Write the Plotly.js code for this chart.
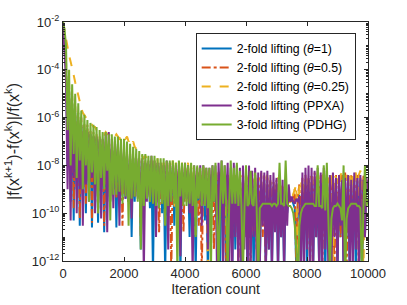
<!DOCTYPE html>
<html>
<head>
<meta charset="utf-8">
<script src="https://cdn.plot.ly/plotly-3.0.1.min.js"></script>
<style>html,body{margin:0;padding:0;background:#fff;}#chart{width:407px;height:305px;}</style>
</head>
<body>
<div id="chart"></div>
<script>
const iterations = [0,50,100,150,200,250,300,350,400,450,500,550,600,650,700,750,800,850,900,950,1000,1050,1100,1150,1200,1250,1300,1350,1400,1450,1500,1550,1600,1650,1700,1750,1800,1850,1900,1950,2000,2050,2100,2150,2200,2250,2300,2350,2400,2450,2500,2550,2600,2650,2700,2750,2800,2850,2900,2950,3000,3050,3100,3150,3200,3250,3300,3350,3400,3450,3500,3550,3600,3650,3700,3750,3800,3850,3900,3950,4000,4050,4100,4150,4200,4250,4300,4350,4400,4450,4500,4550,4600,4650,4700,4750,4800,4850,4900,4950,5000,5050,5100,5150,5200,5250,5300,5350,5400,5450,5500,5550,5600,5650,5700,5750,5800,5850,5900,5950,6000,6050,6100,6150,6200,6250,6300,6350,6400,6450,6500,6550,6600,6650,6700,6750,6800,6850,6900,6950,7000,7050,7100,7150,7200,7250,7300,7350,7400,7450,7500,7550,7600,7650,7700,7750,7800,7850,7900,7950,8000,8050,8100,8150,8200,8250,8300,8350,8400,8450,8500,8550,8600,8650,8700,8750,8800,8850,8900,8950,9000,9050,9100,9150,9200,9250,9300,9350,9400,9450,9500,9550,9600,9650,9700,9750,9800,9850,9900,9950,10000];

const lift2_theta1 = [
1e-2,6e-4,1e-4,1e-8,1.3e-5,3e-10,4e-6,5e-11,1.6e-6,1e-9,
8e-7,3e-11,5e-7,5e-10,3e-7,1e-10,2.5e-7,1.6e-9,2e-7,2.5e-11,
1.6e-7,6e-10,1.3e-7,4e-11,1e-7,1e-9,8e-8,1.6e-11,6e-8,3e-10,
5e-8,3e-10,5e-8,1e-9,4e-8,2.5e-11,3e-8,3e-10,3e-8,5e-10,
2.5e-8,4e-10,2.5e-8,3e-10,2e-8,1e-11,2e-8,3e-10,1.6e-8,5e-10,
1.6e-8,3e-12,1.3e-8,3e-10,1.3e-8,4e-10,1e-8,1.6e-10,1.3e-8,3e-13,
1e-8,3e-10,1e-8,4e-10,8e-9,1e-10,1e-8,3e-13,8e-9,3e-10,
6e-9,5e-10,8e-9,3e-11,6e-9,3e-10,6e-9,3e-13,5e-9,3e-10,
6e-9,4e-10,5e-9,1e-11,5e-9,3e-10,4e-9,3e-13,5e-9,3e-10,
4e-9,2.5e-10,4e-9,5e-11,3e-9,3e-13,4e-9,3e-10,3e-9,3e-10,
3e-9,3e-11,4e-9,3e-13,3e-9,3e-10,2.5e-9,3e-13,3e-9,3e-10,
2.5e-9,3e-13,3e-9,3e-12,2.5e-9,6e-11,2e-9,3e-13,2.5e-9,1e-11,
2e-9,3e-13,2.5e-9,3e-11,2e-9,3e-13,1.6e-9,1e-11,2e-9,3e-13,
1.6e-9,5e-11,2.5e-9,3e-13,1.6e-9,3e-12,2e-9,3e-13,1.3e-9,3e-11,
1.6e-9,3e-13,1.3e-9,1e-11,1e-9,3e-13,8e-10,1e-10,6e-10,3e-10,
4e-10,2.5e-10,1.6e-10,3e-13,3e-10,6e-10,3e-13,1.6e-9,1e-11,2e-9,
3e-13,2.5e-9,3e-11,2e-9,3e-13,2.5e-9,1e-11,2e-9,3e-13,2.5e-9,
5e-11,2e-9,3e-13,3e-9,3e-12,2.5e-9,3e-13,2e-9,3e-11,2.5e-9,
3e-13,3e-9,1e-11,2e-9,3e-13,2.5e-9,3e-11,3e-9,3e-13,2e-9,
1e-11,2.5e-9,3e-13,3e-9,5e-11,2.5e-9,3e-13,2e-9,1e-11,1.6e-9,
1e-9];

const lift2_theta05 = [
1e-2,1e-3,2e-4,3e-8,2.5e-5,1e-9,8e-6,1.6e-10,3e-6,3e-9,
1.6e-6,6e-11,1e-6,1e-9,6e-7,2.5e-10,5e-7,2.5e-9,3e-7,4e-11,
2.5e-7,1e-9,2e-7,1e-10,1.6e-7,1.6e-9,1.3e-7,3e-11,1e-7,5e-10,
8e-8,3e-10,8e-8,1e-9,6e-8,4e-10,5e-8,4e-10,5e-8,3e-11,
4e-8,6e-10,3e-8,3e-10,3e-8,3e-10,2.5e-8,5e-10,2e-8,5e-10,
2e-8,1e-11,1.6e-8,3e-10,1.6e-8,4e-10,1.3e-8,3e-10,1.6e-8,5e-10,
1.3e-8,3e-10,1.3e-8,1.6e-11,1e-8,2.5e-10,1.3e-8,4e-10,1e-8,3e-10,
1e-8,3e-13,1e-8,3e-10,8e-9,4e-10,8e-9,3e-10,8e-9,1.6e-11,
6e-9,3e-10,8e-9,3e-10,6e-9,4e-10,6e-9,3e-10,5e-9,3e-11,
6e-9,3e-13,5e-9,3e-10,5e-9,4e-10,4e-9,3e-10,5e-9,3e-12,
4e-9,3e-10,5e-9,4e-10,4e-9,3e-10,5e-9,3e-13,4e-9,3e-10,
3e-9,1e-11,4e-9,1e-10,3e-9,3e-13,4e-9,3e-11,3e-9,1e-11,
4e-9,1e-10,5e-9,3e-13,6e-9,1.6e-11,4e-9,3e-12,3e-9,1e-10,
5e-9,1e-11,4e-9,3e-13,3e-9,3e-11,2.5e-9,1e-11,2e-9,1.6e-10,
2.5e-9,3e-11,1.6e-9,1e-11,1.3e-9,1.6e-10,1e-9,3e-10,5e-10,4e-10,
3e-10,5e-10,1e-9,3e-13,5e-10,1.6e-9,3e-11,3e-9,1e-11,4e-9,
1e-10,3e-9,3e-13,4e-9,3e-11,5e-9,1e-11,3e-9,1.6e-10,4e-9,
3e-13,5e-9,3e-11,4e-9,1e-11,3e-9,1e-10,5e-9,3e-13,4e-9,
3e-11,3e-9,1e-11,4e-9,1.6e-10,5e-9,3e-13,3e-9,3e-11,4e-9,
1e-11,3e-9,1e-10,4e-9,3e-13,3e-9,3e-11,4e-9,1e-11,2.5e-9,
1e-9];

const lift2_theta025 = [
1e-2,4e-3,1.6e-3,8e-4,4e-4,2.2e-4,1.3e-4,6e-5,3e-5,1.6e-5,
8e-6,4e-6,2.5e-6,1.6e-6,1.3e-6,1e-6,8e-7,6e-7,5e-7,5e-7,
4e-7,4e-7,3e-7,3e-7,2.5e-7,2.5e-7,2.5e-7,2e-7,2.5e-7,2e-7,
2e-7,1.6e-7,2e-7,1.6e-7,1.6e-7,2e-7,1.6e-7,1.3e-7,1.6e-7,2e-7,
1.6e-7,1.3e-7,1.6e-7,1e-7,1.3e-7,8e-8,1e-7,6e-8,5e-8,4e-8,
3e-8,2.5e-8,2.5e-8,2e-8,2.5e-8,2e-8,1.6e-8,2e-8,1.6e-8,1e-9,
1.6e-8,1e-10,2e-8,3e-10,1.6e-8,1.6e-9,1.3e-8,3e-11,1.6e-8,6e-10,
1.3e-8,2.5e-9,1.6e-8,1.6e-10,1.3e-8,3e-9,1e-8,6e-11,1.3e-8,1e-9,
1e-8,4e-9,1.3e-8,3e-10,1e-8,2.5e-9,8e-9,1e-11,1e-8,1.6e-9,
8e-9,5e-10,1e-8,3e-9,6e-9,3e-13,8e-9,2e-9,6e-9,1e-9,
5e-9,2.5e-9,6e-9,3e-10,5e-9,3e-9,6e-9,3e-11,4e-9,2e-9,
5e-9,6e-10,4e-9,3e-9,5e-9,1.6e-10,3e-9,4e-9,2.5e-9,1e-9,
4e-9,2.5e-9,3e-9,3e-13,3e-9,2e-9,4e-9,5e-10,2.5e-9,3e-9,
2e-9,3e-10,3e-9,2.5e-9,4e-9,3e-11,2.5e-9,3e-9,2e-9,1e-9,
2.5e-9,3e-9,1.6e-9,6e-10,2e-9,1.3e-9,1e-9,3e-10,5e-10,2.5e-10,
4e-10,6e-10,1e-9,1.6e-9,3e-13,2e-9,2.5e-9,5e-10,3e-9,2e-9,
2.5e-9,3e-10,4e-9,3e-9,2e-9,1e-10,3e-9,4e-9,2.5e-9,6e-10,
3e-9,5e-9,4e-9,1.6e-10,3e-9,2.5e-9,5e-9,3e-13,4e-9,3e-9,
2.5e-9,5e-10,4e-9,5e-9,3e-9,3e-11,4e-9,3e-9,5e-9,1e-9,
4e-9,3e-9,5e-9,3e-10,4e-9,6e-9,3e-9,3e-13,4e-9,3e-9,
2.5e-9];

const lift3_ppxa = [
1e-2,3e-4,3e-5,1e-9,6e-6,5e-11,2.5e-6,3e-9,1e-6,1e-10,
6e-7,1e-9,4e-7,3e-11,3e-7,1.6e-9,2.5e-7,3e-10,2e-7,3e-9,
1.6e-7,1e-10,1.6e-7,6e-10,1.3e-7,6e-11,1.3e-7,1.6e-9,2e-7,1.6e-11,
2.5e-7,5e-10,1.3e-7,1.6e-10,1e-7,2.5e-9,8e-8,3e-11,6e-8,1e-9,
4e-8,4e-10,3e-8,3e-10,2.5e-8,6e-11,2e-8,1e-9,2e-8,4e-10,
1.6e-8,1.6e-10,2e-8,3e-13,1.3e-8,3e-10,1.6e-8,4e-10,2.5e-8,2.5e-10,
1.6e-8,1e-11,1.3e-8,3e-10,1.3e-8,4e-10,1e-8,1.6e-10,1.6e-8,3e-12,
1.3e-8,3e-10,1e-8,4e-10,1e-8,3e-10,1.3e-8,1.6e-12,1e-8,3e-10,
1.3e-8,4e-10,1e-8,1e-10,8e-9,3e-13,1e-8,3e-10,8e-9,4e-10,
1e-8,3e-11,1e-8,3e-10,8e-9,3e-12,8e-9,4e-10,1e-8,3e-10,
1e-8,3e-13,1.3e-8,3e-10,1.6e-8,3e-13,1e-8,4e-10,1.3e-8,3e-13,
8e-9,3e-13,1.3e-8,1e-11,1e-8,3e-13,8e-9,3e-13,1e-8,3e-12,
8e-9,3e-13,1e-8,3e-13,6e-9,1e-11,8e-9,3e-13,5e-9,3e-13,
6e-9,3e-11,5e-9,3e-13,6e-9,3e-12,4e-9,3e-13,5e-9,1.6e-11,
3e-9,3e-13,4e-9,1e-11,2.5e-9,3e-13,2.5e-9,3e-11,1.6e-9,3e-10,
5e-10,3e-10,2.5e-10,4e-10,3e-10,5e-10,3e-13,5e-9,3e-13,8e-9,
3e-12,1e-8,3e-13,8e-9,3e-13,6e-9,1e-11,8e-9,3e-13,5e-9,
3e-13,8e-9,3e-12,6e-9,3e-13,4e-9,3e-13,5e-9,1e-11,3e-9,
3e-13,4e-9,3e-11,2.5e-9,3e-13,3e-9,1e-11,4e-9,3e-13,2.5e-9,
3e-13,5e-9,3e-12,3e-9,3e-13,4e-9,3e-13,2.5e-9,1e-11,3e-9,
1e-9];

const lift3_pdhg = [
1e-2,5e-3,1e-3,3e-7,1e-4,1e-8,2.5e-5,3e-8,1e-5,3e-9,
4e-6,1.6e-8,2e-6,1e-9,1.3e-6,1e-8,8e-7,3e-10,6e-7,5e-9,
5e-7,1.6e-9,4e-7,1e-10,3e-7,3e-9,2.5e-7,1e-9,2.5e-7,6e-9,
2e-7,5e-11,2e-7,6e-10,1.6e-7,6e-10,1.6e-7,8e-10,1.3e-7,2.5e-10,
1.3e-7,5e-10,1e-7,3e-11,8e-8,4e-10,6e-8,5e-10,5e-8,3e-10,
4e-8,3e-12,3e-8,2e-10,3e-8,4e-10,2.5e-8,3e-10,2.5e-8,2.5e-10,
2.5e-8,2e-10,2e-8,1.6e-10,2e-8,2.5e-10,2e-8,3e-11,1.6e-8,2e-10,
1.6e-8,3e-10,1.6e-8,2.5e-10,1.3e-8,3e-13,1.6e-8,5e-10,1.3e-8,2e-10,
1.3e-8,2e-10,1e-8,2.5e-10,1.3e-8,2e-10,1e-8,1e-11,1e-8,4e-10,
8e-9,2e-10,1e-8,2e-10,8e-9,1.6e-10,8e-9,3e-13,1e-8,3e-10,
1.3e-8,2e-10,3e-13,2e-10,1.6e-8,2.5e-10,1e-8,2.5e-10,3e-13,2.5e-10,
1.6e-8,2.5e-10,8e-9,2.5e-10,1.3e-8,2e-10,6e-9,2e-10,3e-13,1.6e-10,
1e-8,2e-10,2.5e-10,6e-9,2.5e-10,2e-10,5e-9,1.6e-10,1e-13,1.6e-10,
2e-10,2.5e-10,2.5e-10,2.5e-10,2.5e-10,2.5e-10,2.5e-10,2e-10,2.5e-10,2.5e-10,
2e-10,2.5e-10,1.3e-8,2.5e-10,2.5e-10,2e-10,1.6e-8,2.5e-10,2e-10,2e-10,
1.6e-10,1e-10,3e-11,3e-12,1e-13,3e-11,1e-10,1.6e-10,2e-10,2.5e-10,
2.5e-10,2.5e-10,2.5e-10,2.5e-10,2.5e-10,2e-10,2e-10,1e-8,2e-10,2e-10,
1.6e-10,1e-8,1.3e-10,1.3e-8,3e-11,3e-13,6e-11,1.6e-10,2e-10,2e-10,
2.5e-10,2e-10,1.6e-10,5e-11,1e-8,1e-13,6e-11,1.6e-10,2e-10,2.5e-10,
2.5e-10,2.5e-10,2.5e-10,2e-10,2e-10,1.6e-10,3e-13,1.6e-10,1e-8,2e-10,
4e-10];

const seriesNames = ['2-fold lifting (<i>θ</i>=1)','2-fold lifting (<i>θ</i>=0.5)','2-fold lifting (<i>θ</i>=0.25)','3-fold lifting (PPXA)','3-fold lifting (PDHG)'];
const seriesValues = [lift2_theta1, lift2_theta05, lift2_theta025, lift3_ppxa, lift3_pdhg];
const colors = ['#0072BD','#D95319','#EDB120','#7E2F8E','#77AC30'];
const dashes = ['solid','dashdot','dash','solid','solid'];

const yTickVals = [1e-12,1e-10,1e-8,1e-6,1e-4,1e-2];
const yTickText = ['10<sup>-12</sup>','10<sup>-10</sup>','10<sup>-8</sup>','10<sup>-6</sup>','10<sup>-4</sup>','10<sup>-2</sup>'];
const xTickVals = [0,2000,4000,6000,8000,10000];
const yMinorTicks = [];
for (let d = -12; d < -2; d++) {
  for (let k = 1; k <= 9; k++) {
    if (k === 1 && (d % 2 === 0)) continue;
    yMinorTicks.push(k * Math.pow(10, d));
  }
}

const traces = seriesValues.map((v,i)=>({
  x: iterations, y: v, type:'scatter', mode:'lines', name: seriesNames[i],
  line:{color:colors[i], width:2, dash:dashes[i]}
}));

const fam = 'Liberation Sans, Arial, sans-serif';
const layout = {
  width:407, height:305,
  margin:{l:63, r:39, t:22, b:44},
  paper_bgcolor:'#fff', plot_bgcolor:'#fff',
  font:{family:fam, size:13, color:'#262626'},
  showlegend:true,
  legend:{x:0.435, y:0.954, xanchor:'left', yanchor:'top', bgcolor:'#fff', bordercolor:'#262626', borderwidth:1,
    font:{family:fam, size:12.3, color:'#000'}, tracegroupgap:0},
  xaxis:{range:[0,10000], tickvals:xTickVals, ticktext:xTickVals.map(String), ticks:'inside', ticklen:4, tickcolor:'#262626',
    showline:true, linecolor:'#262626', linewidth:1, mirror:'allticks', showgrid:false, zeroline:false,
    tickfont:{size:13},
    title:{text:'Iteration count', font:{size:14, color:'#262626'}, standoff:4}},
  yaxis:{type:'log', range:[-12,-2], tickvals:yTickVals, ticktext:yTickText, ticks:'inside', ticklen:4, tickcolor:'#262626',
    showline:true, linecolor:'#262626', linewidth:1, mirror:'allticks', showgrid:false, zeroline:false,
    tickfont:{size:13},
    minor:{tickmode:'array', tickvals:yMinorTicks, ticks:'inside', ticklen:2, tickcolor:'#262626', showgrid:false},
    title:{text:'|f(x<sup>k+1</sup>)-f(x<sup>k</sup>)|/f(x<sup>k</sup>)', font:{size:16, color:'#262626'}, standoff:8}}
};
Plotly.newPlot('chart', traces, layout, {displayModeBar:false, staticPlot:true});
</script>
</body>
</html>
